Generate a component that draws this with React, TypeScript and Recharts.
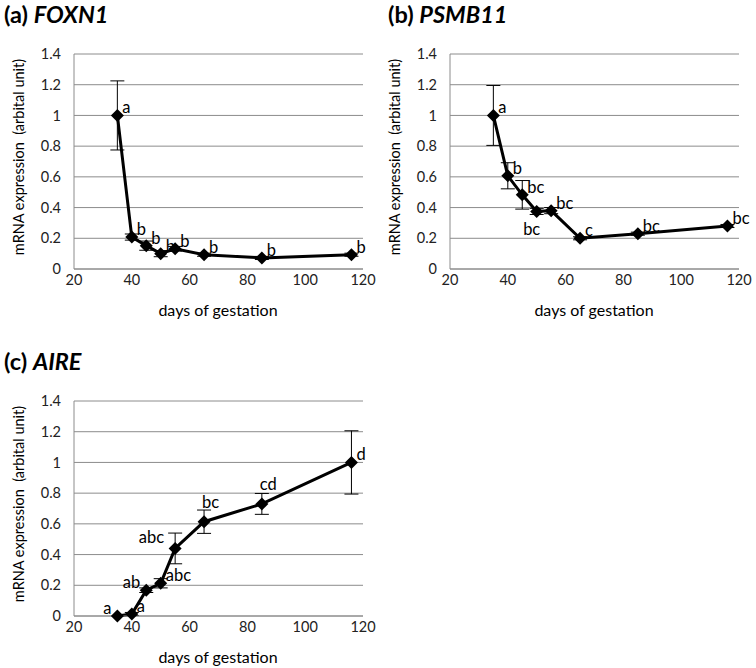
import React from 'react';
import { LineChart, Line, XAxis, YAxis, CartesianGrid, ErrorBar, LabelList } from 'recharts';

// days of gestation sampled
const DAYS = [35, 40, 45, 50, 55, 65, 85, 116];

const FOXN1 = [1.0, 0.208, 0.152, 0.1, 0.132, 0.093, 0.072, 0.093];
const FOXN1_ERR = [0.225, 0.02, 0.03, 0.02, 0.015, 0.01, 0.01, 0.01];
const FOXN1_LBL = ['a', 'b', 'b', 'b', 'b', 'b', 'b', 'b'];

const PSMB11 = [1.0, 0.607, 0.483, 0.375, 0.38, 0.2, 0.23, 0.28];
const PSMB11_ERR = [0.195, 0.085, 0.093, 0.02, 0.02, 0.01, 0.01, 0.01];
const PSMB11_LBL = ['a', 'b', 'bc', 'bc', 'bc', 'c', 'bc', 'bc'];

const AIRE = [0.0, 0.013, 0.168, 0.213, 0.44, 0.614, 0.73, 1.0];
const AIRE_ERR = [0.0, 0.01, 0.015, 0.03, 0.1, 0.076, 0.068, 0.206];
const AIRE_LBL = ['a', 'a', 'ab', 'abc', 'abc', 'bc', 'cd', 'd'];

const X_TICKS = [20, 40, 60, 80, 100, 120];
const Y_TICKS = [0, 0.2, 0.4, 0.6, 0.8, 1, 1.2, 1.4];

// where each letter sits next to its point
const POS_A = ['ru', 'ru', 'ru', 'ru', 'ru', 'ru', 'ru', 'ru'];
const POS_B = ['ru', 'ru', 'ru', 'bl', 'ru', 'ru', 'ru', 'ru'];
const POS_C = ['lu', 'ru', 'lu', 'ru', 'lu2', 'u', 'u', 'ru'];

const FONT = 'Lato, "Open Sans", sans-serif';
const GRID = '#8c8c8c';

const Diamond = (props: any) => {
  const { cx, cy } = props;
  if (cx == null || cy == null) return null;
  const r = 6.5;
  return <polygon points={`${cx},${cy - r} ${cx + r},${cy} ${cx},${cy + r} ${cx - r},${cy}`} fill="#000" />;
};

function makeLabel(pos: string[]) {
  return (props: any) => {
    const { x, y, value, index } = props;
    const p = pos[index];
    let tx = x + 5, ty = y - 2, anchor = 'start';
    if (p === 'lu') { tx = x - 6; ty = y - 2; anchor = 'end'; }
    if (p === 'lu2') { tx = x - 11; ty = y - 5; anchor = 'end'; }
    if (p === 'u') { tx = x - 2; ty = y - 14; anchor = 'start'; }
    if (p === 'bl') { tx = x - 5; ty = y + 24; anchor = 'middle'; }
    return (
      <text x={tx} y={ty} textAnchor={anchor} fontSize={16.5} fontFamily={FONT} fill="#000">
        {value}
      </text>
    );
  };
}

function Panel({ letter, gene, vals, errs, lbls, pos, left, top, titleX }: any) {
  const rows = DAYS.map((d, i) => ({ day: d, v: vals[i], err: errs[i], lbl: lbls[i] }));
  return (
    <div style={{ position: 'absolute', left, top, width: 378, height: 330 }}>
      <div style={{ position: 'absolute', left: titleX, top: 3, fontFamily: FONT, fontWeight: 700, fontSize: 23.5, lineHeight: 1, whiteSpace: 'nowrap' }}>
        ({letter}) <i>{gene}</i>
      </div>
      <div style={{ position: 'absolute', left: 0, top: 44 }}>
        <LineChart width={378} height={245} data={rows} margin={{ top: 10, right: 15, bottom: 0, left: 0 }}>
          <CartesianGrid vertical={false} stroke={GRID} strokeWidth={1} />
          <XAxis
            type="number"
            dataKey="day"
            domain={[20, 120]}
            ticks={X_TICKS}
            height={20}
            tickSize={0}
            tickMargin={6}
            stroke={GRID}
            tick={{ fontSize: 14.5, fontFamily: FONT, fill: '#222' }}
          />
          <YAxis
            type="number"
            domain={[0, 1.4]}
            ticks={Y_TICKS}
            width={74}
            tickSize={0}
            tickMargin={13}
            stroke={GRID}
            tickFormatter={(v: number) => String(Math.round(v * 10) / 10)}
            tick={{ fontSize: 14.5, fontFamily: FONT, fill: '#222' }}
          />
          <Line
            type="linear"
            dataKey="v"
            stroke="#000"
            strokeWidth={3}
            dot={<Diamond />}
            activeDot={false}
            isAnimationActive={false}
          >
            <ErrorBar dataKey="err" direction="y" width={7} stroke="#000" strokeWidth={1} />
            <LabelList dataKey="lbl" content={makeLabel(pos)} />
          </Line>
        </LineChart>
      </div>
      <div style={{ position: 'absolute', left: 218, top: 309, transform: 'translate(-50%, -50%)', fontFamily: FONT, fontSize: 16, whiteSpace: 'nowrap' }}>
        days of gestation
      </div>
      <div style={{ position: 'absolute', left: 18, top: 157, transform: 'translate(-50%, -50%) rotate(-90deg)', fontFamily: FONT, fontSize: 14.5, whiteSpace: 'pre' }}>
        {'mRNA expression  (arbital unit)'}
      </div>
    </div>
  );
}

export default function App() {
  return (
    <div style={{ position: 'absolute', left: 0, top: 0, width: 756, height: 668, background: '#fff' }}>
      <Panel letter="a" gene="FOXN1" vals={FOXN1} errs={FOXN1_ERR} lbls={FOXN1_LBL} pos={POS_A} left={0} top={0} titleX={4} />
      <Panel letter="b" gene="PSMB11" vals={PSMB11} errs={PSMB11_ERR} lbls={PSMB11_LBL} pos={POS_B} left={376} top={0} titleX={12} />
      <Panel letter="c" gene="AIRE" vals={AIRE} errs={AIRE_ERR} lbls={AIRE_LBL} pos={POS_C} left={0} top={347} titleX={4} />
    </div>
  );
}
